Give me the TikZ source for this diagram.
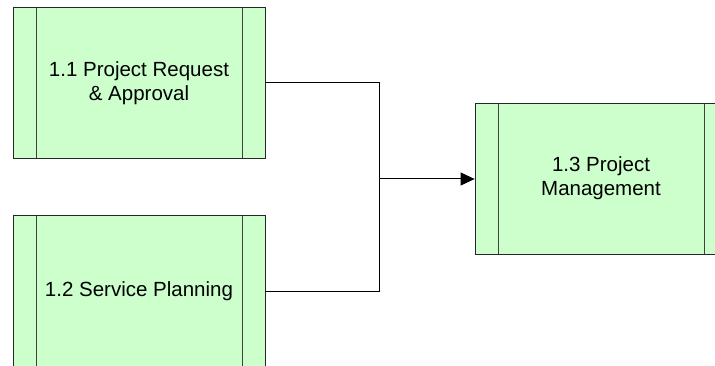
\documentclass[tikz,border=0pt]{standalone}
\usepackage{fontspec}
\setmainfont{Liberation Sans}
\usetikzlibrary{arrows.meta}
\definecolor{procfill}{HTML}{CCFFCC}

\begin{document}
\begin{tikzpicture}[x=1pt,y=-1pt,
  process/.style={draw=black!85, fill=procfill, line width=0.8pt,
    minimum width=252pt, minimum height=151pt, inner sep=0pt,
    align=center, font=\fontsize{20.5}{24}\selectfont,
    path picture={%
      \draw[black!75, line width=0.8pt]
        ([xshift=23pt]path picture bounding box.north west) --
        ([xshift=23pt]path picture bounding box.south west)
        ([xshift=-23pt]path picture bounding box.north east) --
        ([xshift=-23pt]path picture bounding box.south east);}},
  flow/.style={line width=1pt, black}]
  \useasboundingbox (0,0) rectangle (715,366);
  \clip (0,0) rectangle (715,366);
   %%%%%%%%%%%%%%%%% vertices %%%%%%%%%%%%%%%%%%%
   %  name / y of centre / label

\foreach \name/\y/\txt in
    {req/83/{1.1 Project Request\\ \& Approval},
     plan/291/{1.2 Service Planning}}
 {\node[process] (\name) at (139,\y) {\txt};}

\node[process] (mgmt) at (601,178.5) {1.3 Project\\ Management};

\coordinate (join) at (379,179);

%%%%%%%%%%%%%%%%% edges %%%%%%%%%%%%%%%%%%%%%%%
\foreach \src in {req,plan} {\draw[flow] (\src.east) -| (join);}

\draw[flow, -{Triangle[length=14pt,width=13pt]}] (join) -- (join -| mgmt.west);
\end{tikzpicture}
\end{document}
